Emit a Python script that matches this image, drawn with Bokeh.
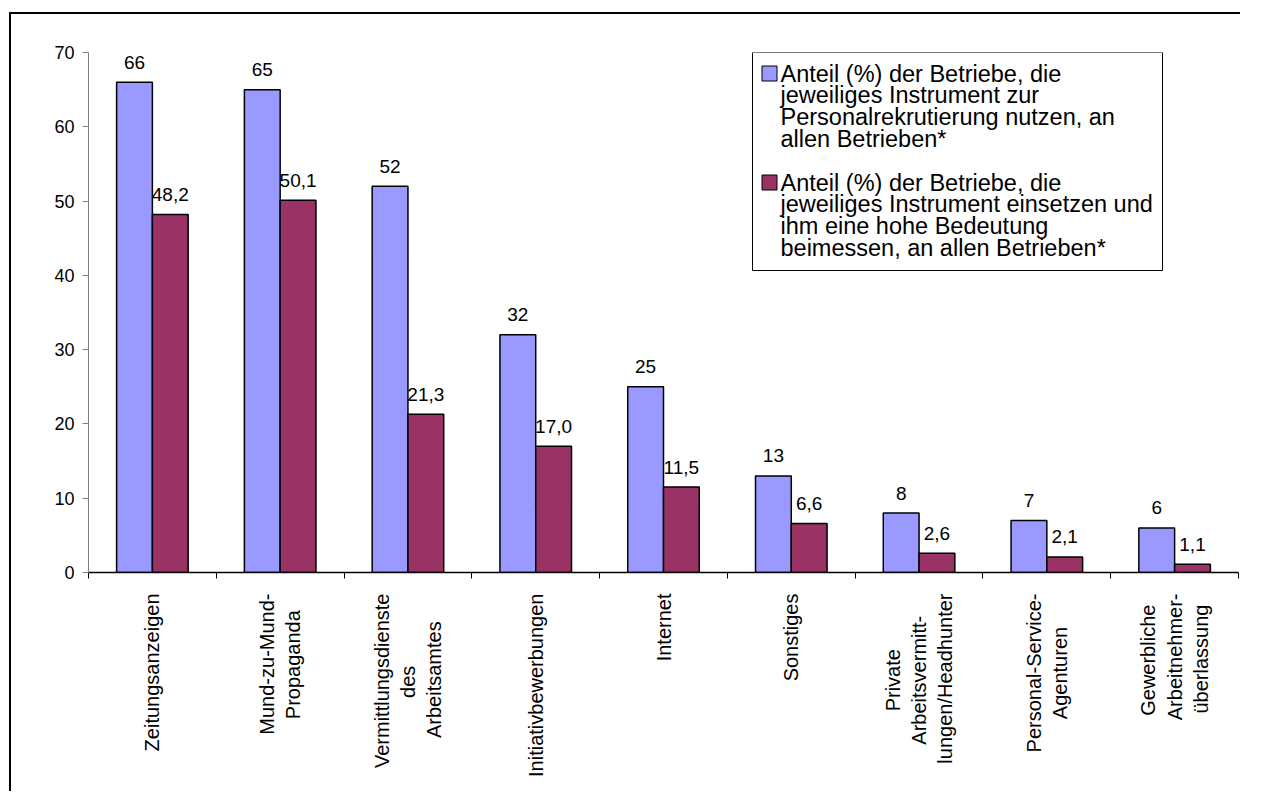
import numpy as np
from bokeh.plotting import figure
from bokeh.models import ColumnDataSource, Range1d, FixedTicker, Label, BoxAnnotation
from bokeh.embed import file_html
from bokeh.resources import INLINE
from bokeh.core.properties import value

categories = [
    "Zeitungsanzeigen",
    "Mund-zu-Mund-\nPropaganda",
    "Vermittlungsdienste\ndes\nArbeitsamtes",
    "Initiativbewerbungen",
    "Internet",
    "Sonstiges",
    "Private\nArbeitsvermitt-\nlungen/Headhunter",
    "Personal-Service-\nAgenturen",
    "Gewerbliche\nArbeitnehmer-\nüberlassung",
]
share_use = [66, 65, 52, 32, 25, 13, 8, 7, 6]
share_high = [48.2, 50.1, 21.3, 17.0, 11.5, 6.6, 2.6, 2.1, 1.1]
y_ticks = [0, 10, 20, 30, 40, 50, 60, 70]
series_names = [
    "Anteil (%) der Betriebe, die\njeweiliges Instrument zur\nPersonalrekrutierung nutzen, an\nallen Betrieben*",
    "Anteil (%) der Betriebe, die\njeweiliges Instrument einsetzen und\nihm eine hohe Bedeutung\nbeimessen, an allen Betrieben*",
]

FONT = "Liberation Sans"
BLUE = "#9999FF"
MAROON = "#993366"
series_colors = [BLUE, MAROON]

# layout (pixels)
W, H = 1231, 779
BL, BR, BT, BB = 77, 4, 38, 221
FRAME_W = W - BL - BR
FRAME_H = H - BT - BB

# approximate Arial/Liberation Sans advance widths (1/1000 em) used only to
# centre the lines of the rotated multi-line tick labels
ADV = {'A': 667, 'B': 667, 'G': 722, 'H': 722, 'I': 278, 'M': 833, 'P': 667, 'S': 667,
       'V': 667, 'Z': 611, 'a': 556, 'b': 556, 'c': 500, 'd': 556, 'e': 556, 'f': 278,
       'g': 556, 'h': 556, 'i': 222, 'j': 222, 'k': 500, 'l': 222, 'm': 833, 'n': 556,
       'o': 556, 'p': 556, 'r': 333, 's': 500, 't': 278, 'u': 556, 'v': 500, 'w': 722,
       'z': 500, 'ü': 556, '-': 333, '/': 278, ' ': 278}
NBSP = "\u00a0"


def centre_lines(label):
    lines = label.split("\n")
    widths = [sum(ADV.get(c, 556) for c in ln) for ln in lines]
    m = max(widths)
    return "\n".join(ln + NBSP * int(round((m - w) / 2 / 278)) for ln, w in zip(lines, widths))


x_range = Range1d(0, len(categories))
y_range = Range1d(0, 70)
px_x = (x_range.end - x_range.start) / FRAME_W
px_y = (y_range.end - y_range.start) / FRAME_H

idx = np.arange(len(categories))
LABEL_GAP = 20  # px between bar top and label anchor
src = ColumnDataSource(dict(
    x1=idx + 0.36,
    x2=idx + 0.64,
    a=share_use,
    b=share_high,
    ya=[v + LABEL_GAP * px_y for v in share_use],
    yb=[v + LABEL_GAP * px_y for v in share_high],
    la=[f"{v:d}" for v in share_use],
    lb=[f"{v:.1f}".replace(".", ",") for v in share_high],
))

p = figure(
    width=W, height=H,
    x_range=x_range, y_range=y_range,
    output_backend="svg", toolbar_location=None,
    min_border_left=BL, min_border_right=BR, min_border_top=BT, min_border_bottom=BB,
    styles={"border-left": "2px solid black", "border-top": "2px solid black",
            "margin-left": "9px", "margin-top": "12px"},
)
p.xgrid.visible = False
p.ygrid.visible = False
p.outline_line_color = None
p.background_fill_color = "white"
p.border_fill_color = "white"

r1 = p.vbar(x="x1", top="a", width=0.28, fill_color=BLUE, line_color="black", line_width=1.5, source=src)
r2 = p.vbar(x="x2", top="b", width=0.28, fill_color=MAROON, line_color="black", line_width=1.5, source=src)

p.text(x="x1", y="ya", text="la", source=src, text_align="center", text_baseline="alphabetic",
       text_font=value(FONT), text_font_size="19px", text_color="black")
p.text(x="x2", y="yb", text="lb", source=src, text_align="center", text_baseline="alphabetic",
       text_font=value(FONT), text_font_size="19px", text_color="black")

# x axis: labels at category centres, tick marks at category boundaries
xa = p.xaxis[0]
xa.ticker = FixedTicker(ticks=[float(i) + 0.5 for i in idx],
                        minor_ticks=[float(i) for i in range(len(categories) + 1)])
xa.major_label_overrides = {float(i) + 0.5: centre_lines(c) for i, c in zip(idx, categories)}
xa.major_tick_in = 0
xa.major_tick_out = 0
xa.minor_tick_in = 0
xa.minor_tick_out = 6
xa.minor_tick_line_color = "black"
xa.axis_line_color = "black"
xa.axis_line_width = 1.3
xa.major_label_orientation = np.pi / 2
xa.major_label_standoff = 15
xa.major_label_text_font = FONT
xa.major_label_text_font_size = "20px"
xa.major_label_text_color = "black"

ya = p.yaxis[0]
ya.ticker = FixedTicker(ticks=y_ticks, minor_ticks=[])
ya.major_tick_in = 0
ya.major_tick_out = 6
ya.minor_tick_out = 0
ya.axis_line_color = "#808080"
ya.major_tick_line_color = "#808080"
ya.major_label_standoff = 8
ya.major_label_text_font = FONT
ya.major_label_text_font_size = "18px"
ya.major_label_text_color = "black"

# legend (frame pixel offsets from the top-left of the plot area)
LG_L, LG_R, LG_T, LG_B = 664, 1074, 0, 218


def fx(px):
    return x_range.start + px * px_x


def fy(py):
    return y_range.end - py * px_y


p.add_layout(BoxAnnotation(left=fx(LG_L), right=fx(LG_R), top=fy(LG_T), bottom=fy(LG_B),
                           fill_color=None, line_color="black", line_width=1, line_alpha=1,
                           level="underlay"))
entry_tops = [8, 117]
entry_glyph_centres = [21, 130]
for name, color, top, gc in zip(series_names, series_colors, entry_tops, entry_glyph_centres):
    p.scatter(x=[fx(681)], y=[fy(gc)], marker="square", size=15, fill_color=color,
              line_color="black", line_width=1)
    p.add_layout(Label(
        x=fx(692), y=fy(top), text=name, text_align="left", text_baseline="top",
        text_font=FONT, text_font_size="23.5px", text_line_height=0.84, text_color="black",
    ))

open("out.html", "w").write(file_html(p, INLINE))
